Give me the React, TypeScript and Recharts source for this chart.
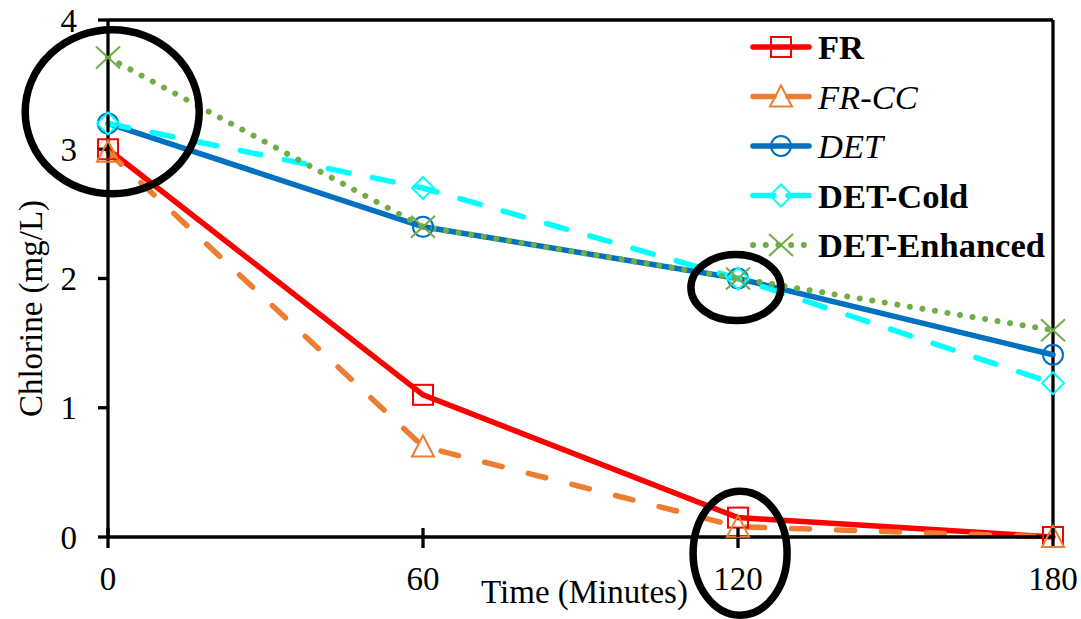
import React from 'react';
import {
  LineChart,
  Line,
  XAxis,
  YAxis,
  Legend,
  ReferenceLine,
  ReferenceDot,
} from 'recharts';

const times = [0, 60, 120, 180];
const fr = [3.0, 1.1, 0.15, 0.0];
const frCC = [2.98, 0.7, 0.08, 0.0];
const det = [3.2, 2.4, 2.0, 1.41];
const detCold = [3.2, 2.7, 2.0, 1.19];
const detEnhanced = [3.71, 2.4, 2.0, 1.6];
const yTicks = [0, 1, 2, 3, 4];

// hand-drawn highlight rings, in data units
const rings = [
  { x: 0.8, y: 3.29, rx: 87, ry: 82 },
  { x: 119.6, y: 1.93, rx: 45, ry: 33 },
  { x: 120.4, y: -0.125, rx: 47, ry: 62 },
];

const data = times.map((t, i) => ({
  t,
  fr: fr[i],
  frCC: frCC[i],
  det: det[i],
  detCold: detCold[i],
  detEnhanced: detEnhanced[i],
}));

type Kind = 'square' | 'triangle' | 'circle' | 'diamond' | 'x';

const series: {
  key: string;
  name: string;
  color: string;
  dash?: string;
  kind: Kind;
  bold: boolean;
}[] = [
  { key: 'fr', name: 'FR', color: '#FF0000', kind: 'square', bold: true },
  { key: 'frCC', name: 'FR-CC', color: '#ED7D31', dash: '18 27', kind: 'triangle', bold: false },
  { key: 'det', name: 'DET', color: '#0070C0', kind: 'circle', bold: false },
  { key: 'detCold', name: 'DET-Cold', color: '#00FFFF', dash: '21 24', kind: 'diamond', bold: true },
  { key: 'detEnhanced', name: 'DET-Enhanced', color: '#70AD47', dash: '0.1 12.6', kind: 'x', bold: true },
];

const FONT = '"Liberation Serif", "Times New Roman", serif';

function Marker({ kind, cx, cy, color }: { kind: Kind; cx: number; cy: number; color: string }) {
  const common = { fill: 'none', stroke: color, strokeWidth: 2 };
  switch (kind) {
    case 'square':
      return <rect x={cx - 10} y={cy - 10} width={20} height={20} {...common} />;
    case 'triangle':
      return <path d={`M${cx},${cy - 11} L${cx + 11},${cy + 10} L${cx - 11},${cy + 10} Z`} {...common} />;
    case 'circle':
      return <circle cx={cx} cy={cy} r={10} {...common} />;
    case 'diamond':
      return <path d={`M${cx},${cy - 11} L${cx + 11},${cy} L${cx},${cy + 11} L${cx - 11},${cy} Z`} {...common} />;
    default:
      return (
        <g {...common}>
          <line x1={cx - 12} y1={cy - 11} x2={cx + 12} y2={cy + 11} />
          <line x1={cx - 12} y1={cy + 11} x2={cx + 12} y2={cy - 11} />
        </g>
      );
  }
}

const XTick = (props: any) => {
  const { x, y, payload } = props;
  const axisY = y - 19 - 11;
  return (
    <g>
      <line x1={x} x2={x} y1={axisY - 9} y2={axisY} stroke="#000" strokeWidth={3.3} />
      <text x={x} y={y} dy="0.71em" textAnchor="middle" fontFamily={FONT} fontSize={33} fill="#000">
        {payload.value}
      </text>
    </g>
  );
};

const YTitle = ({ viewBox }: any) => {
  const cx = 30;
  const cy = viewBox.y + viewBox.height / 2 + 30;
  return (
    <text
      x={cx}
      y={cy}
      transform={`rotate(-90 ${cx} ${cy})`}
      textAnchor="middle"
      dy="0.35em"
      fontFamily={FONT}
      fontSize={33}
      fill="#000"
    >
      Chlorine (mg/L)
    </text>
  );
};

const XTitle = ({ viewBox }: any) => (
  <text
    x={viewBox.x + viewBox.width / 2 + 4}
    y={viewBox.y + 66}
    textAnchor="middle"
    fontFamily={FONT}
    fontSize={33}
    fill="#000"
  >
    Time (Minutes)
  </text>
);

const LegendBox = () => (
  <svg width={320} height={250} style={{ display: 'block', overflow: 'visible' }}>
    {series.map((s, i) => {
      const cy = 25 + i * 49.5;
      return (
        <g key={s.key}>
          <line
            x1={3}
            x2={59}
            y1={cy}
            y2={cy}
            stroke={s.color}
            strokeWidth={s.kind === 'x' ? 6 : 5.5}
            strokeDasharray={s.dash ? (s.kind === 'x' ? '0.1 12.6' : '21 14') : undefined}
            strokeLinecap="round"
          />
          <Marker kind={s.kind} cx={31} cy={cy} color={s.color} />
          <text
            x={68}
            y={cy}
            dy="0.35em"
            fontFamily={FONT}
            fontSize={34.5}
            fontWeight={s.bold ? 'bold' : 'normal'}
            fontStyle={s.bold ? 'normal' : 'italic'}
            fill="#000"
          >
            {s.name}
          </text>
        </g>
      );
    })}
  </svg>
);

export default function App() {
  return (
    <div style={{ position: 'absolute', left: 0, top: 0, width: 1081, height: 619, background: '#fff' }}>
      <LineChart width={1081} height={619} data={data} margin={{ top: 20, right: 28, bottom: 0, left: 0 }}>
        <XAxis
          type="number"
          dataKey="t"
          domain={[0, 180]}
          ticks={times}
          height={82}
          axisLine={{ stroke: '#000', strokeWidth: 3.3 }}
          tickLine={{ stroke: '#000', strokeWidth: 3.3 }}
          tickSize={11}
          tickMargin={19}
          tick={<XTick />}
          label={<XTitle />}
        />
        <YAxis
          type="number"
          domain={[0, 4]}
          ticks={yTicks}
          width={108}
          axisLine={{ stroke: '#000', strokeWidth: 3.3 }}
          tickLine={{ stroke: '#000', strokeWidth: 3.3 }}
          tickSize={10}
          tickMargin={21}
          tick={{ fontFamily: FONT, fontSize: 33, fill: '#000' }}
          label={<YTitle />}
        />
        <ReferenceLine y={4} stroke="#000" strokeWidth={3.3} />
        <ReferenceLine x={180} stroke="#000" strokeWidth={3.3} />
        <Legend
          layout="vertical"
          align="center"
          verticalAlign="middle"
          content={<LegendBox />}
          wrapperStyle={{ left: 750, top: 22, width: 320, height: 250 }}
        />
        {series.map((s) => (
          <Line
            key={s.key}
            dataKey={s.key}
            name={s.name}
            type="linear"
            stroke={s.color}
            strokeWidth={s.kind === 'x' ? 6 : 5.5}
            strokeDasharray={s.dash}
            strokeLinecap="round"
            isAnimationActive={false}
            dot={(p: any) => <Marker key={`${s.key}-${p.index}`} kind={s.kind} cx={p.cx} cy={p.cy} color={s.color} />}
            activeDot={false}
          />
        ))}
        {rings.map((r, i) => (
          <ReferenceDot
            key={i}
            x={r.x}
            y={r.y}
            r={r.rx}
            ifOverflow="visible"
            shape={(p: any) => (
              <ellipse cx={p.cx} cy={p.cy} rx={r.rx} ry={r.ry} fill="none" stroke="#000" strokeWidth={7.5} />
            )}
          />
        ))}
      </LineChart>
    </div>
  );
}
